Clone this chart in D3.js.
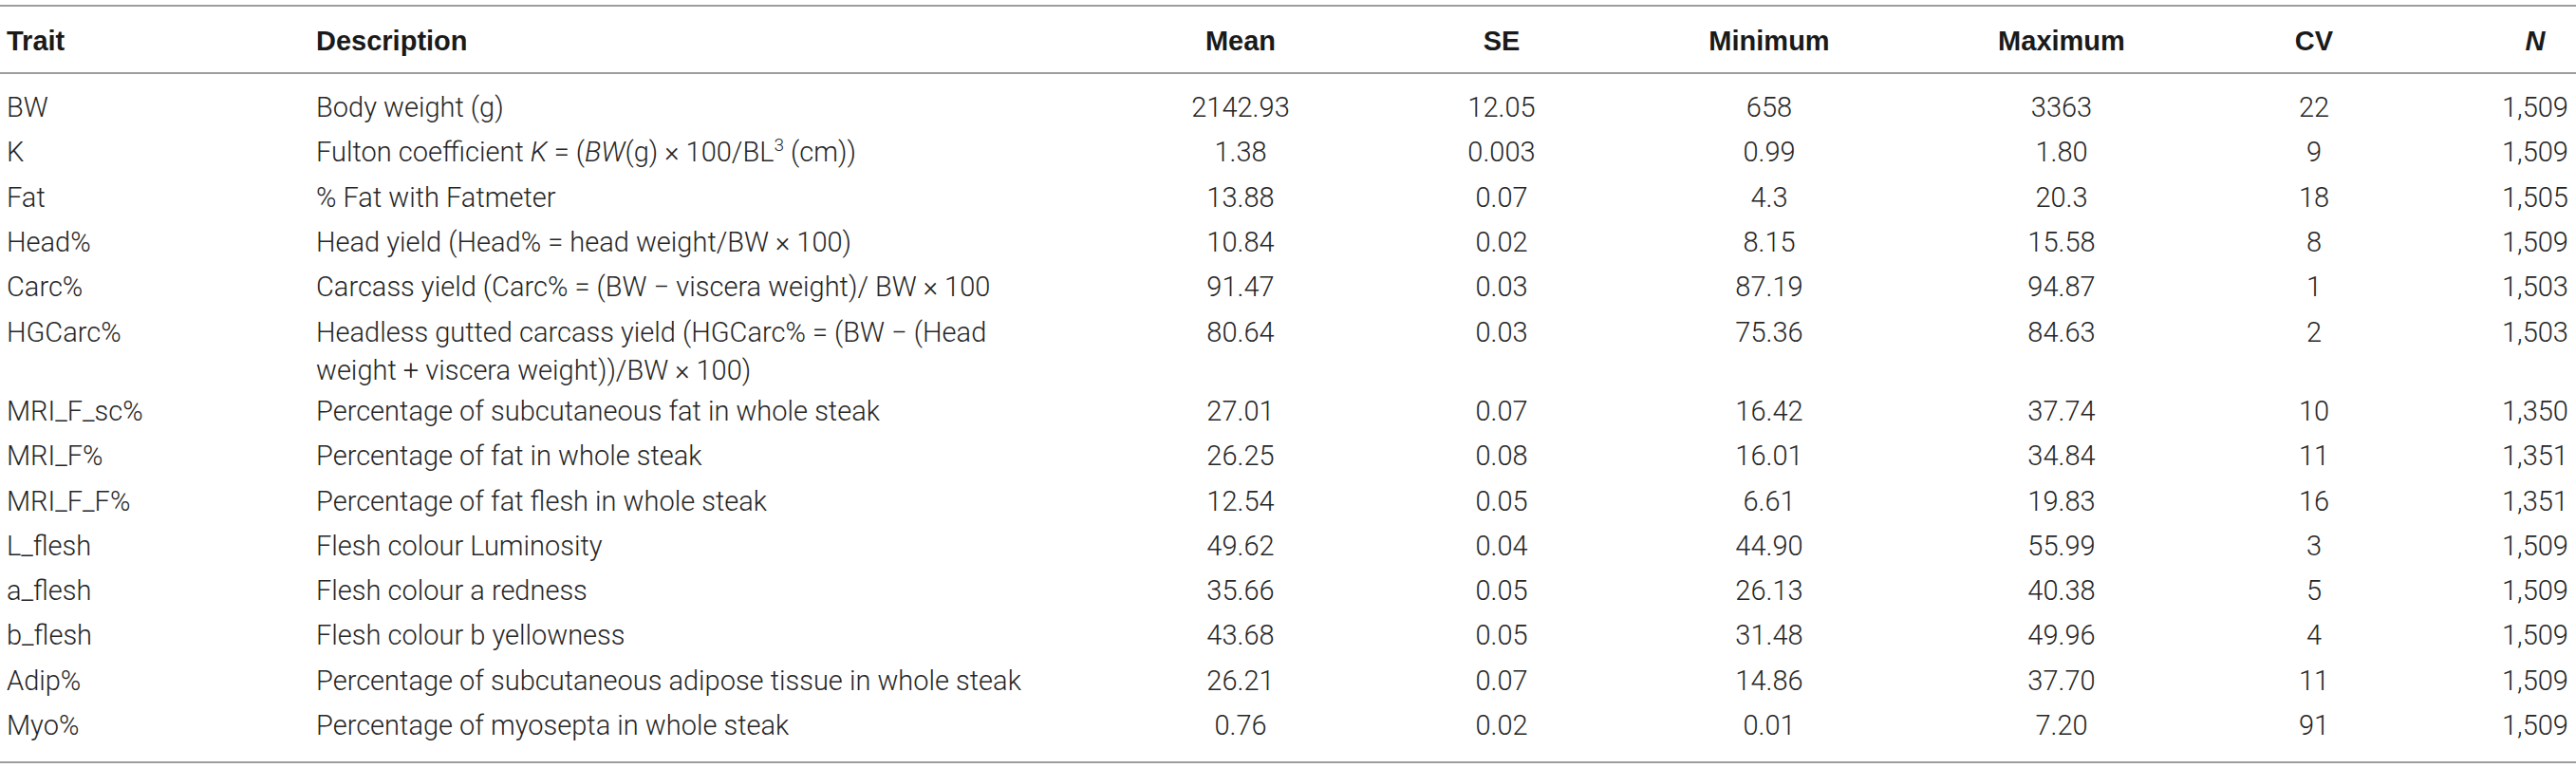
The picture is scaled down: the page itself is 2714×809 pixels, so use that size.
<!DOCTYPE html>
<html>
<head>
<meta charset="utf-8">
<script src="https://cdnjs.cloudflare.com/ajax/libs/d3/7.8.5/d3.min.js"></script>
<style>
  html, body { margin: 0; padding: 0; background: #fff; }
  svg { display: block; }
</style>
</head>
<body>
<script>
// trait summary table, drawn as svg text

var columns = ['Trait', 'Description', 'Mean', 'SE', 'Minimum', 'Maximum', 'CV', 'N'];

var traits = ['BW', 'K', 'Fat', 'Head%', 'Carc%', 'HGCarc%', 'MRI_F_sc%', 'MRI_F%',
  'MRI_F_F%', 'L_flesh', 'a_flesh', 'b_flesh', 'Adip%', 'Myo%'];

// *x* = italic, ^x^ = superscript, one entry per printed line
var descriptions = [
  ['Body weight (g)'],
  ['Fulton coefficient *K* = (*BW*(g) \u00d7 100/BL^3^ (cm))'],
  ['% Fat with Fatmeter'],
  ['Head yield (Head% = head weight/BW \u00d7 100)'],
  ['Carcass yield (Carc% = (BW \u2212 viscera weight)/ BW \u00d7 100'],
  ['Headless gutted carcass yield (HGCarc% = (BW \u2212 (Head', 'weight + viscera weight))/BW \u00d7 100)'],
  ['Percentage of subcutaneous fat in whole steak'],
  ['Percentage of fat in whole steak'],
  ['Percentage of fat flesh in whole steak'],
  ['Flesh colour Luminosity'],
  ['Flesh colour a redness'],
  ['Flesh colour b yellowness'],
  ['Percentage of subcutaneous adipose tissue in whole steak'],
  ['Percentage of myosepta in whole steak']
];

var means = ['2142.93', '1.38', '13.88', '10.84', '91.47', '80.64', '27.01', '26.25',
  '12.54', '49.62', '35.66', '43.68', '26.21', '0.76'];
var ses = ['12.05', '0.003', '0.07', '0.02', '0.03', '0.03', '0.07', '0.08',
  '0.05', '0.04', '0.05', '0.05', '0.07', '0.02'];
var minimums = ['658', '0.99', '4.3', '8.15', '87.19', '75.36', '16.42', '16.01',
  '6.61', '44.90', '26.13', '31.48', '14.86', '0.01'];
var maximums = ['3363', '1.80', '20.3', '15.58', '94.87', '84.63', '37.74', '34.84',
  '19.83', '55.99', '40.38', '49.96', '37.70', '7.20'];
var cvs = ['22', '9', '18', '8', '1', '2', '10', '11', '16', '3', '5', '4', '11', '91'];
var ns = ['1,509', '1,509', '1,505', '1,509', '1,503', '1,503', '1,350', '1,351',
  '1,351', '1,509', '1,509', '1,509', '1,509', '1,509'];

var W = 2714, H = 809;
var FS = 29;
var ROW_PITCH = 47.3, WRAP_LINE = 40, WRAP_EXTRA = 36;

var svg = d3.select('body').append('svg')
  .attr('width', W)
  .attr('height', H);

// column anchors
var xCol = d3.scaleOrdinal()
  .domain(columns)
  .range([7, 333, 1307, 1582, 1864, 2172, 2438, 2671]);

var anchorOf = function(c) {
  return (c === 'Trait' || c === 'Description') ? 'start' : 'middle';
};

var rowY = d3.scaleLinear().domain([0, 1]).range([113, 113 + ROW_PITCH]);

// wrapped description lines push the following rows down
var extraBefore = [];
var acc = 0;
descriptions.forEach(function(d, i) {
  extraBefore.push(acc);
  acc += (d.length - 1) * WRAP_EXTRA;
});
var yOf = function(i) { return rowY(i) + extraBefore[i]; };

// rules
var rules = [6, 77, 803];
svg.selectAll('line.rule')
  .data(rules)
  .enter().append('line')
  .attr('class', 'rule')
  .attr('x1', 0).attr('x2', W)
  .attr('y1', function(d) { return d; })
  .attr('y2', function(d) { return d; })
  .attr('stroke', '#9d9d9d')
  .attr('stroke-width', 2);

// header
svg.selectAll('text.head')
  .data(columns)
  .enter().append('text')
  .attr('class', 'head')
  .attr('x', function(d) { return xCol(d); })
  .attr('y', 43)
  .attr('dy', '0.35em')
  .attr('text-anchor', anchorOf)
  .attr('font-family', '"Liberation Sans", Arial, sans-serif')
  .attr('font-weight', 'bold')
  .attr('font-style', function(d) { return d === 'N' ? 'italic' : 'normal'; })
  .attr('font-size', FS)
  .attr('fill', '#1a1a1a')
  .text(function(d) { return d; });

var body = svg.append('g')
  .attr('font-family', 'Roboto, "Liberation Sans", sans-serif')
  .attr('font-weight', 300)
  .attr('font-size', FS)
  .attr('fill', '#262626');

var rows = body.selectAll('g.row')
  .data(traits)
  .enter().append('g')
  .attr('class', 'row')
  .attr('transform', function(d, i) { return 'translate(0,' + yOf(i) + ')'; });

var numericCols = [
  ['Mean', means], ['SE', ses], ['Minimum', minimums],
  ['Maximum', maximums], ['CV', cvs], ['N', ns]
];

rows.append('text')
  .attr('x', xCol('Trait'))
  .attr('dy', '0.35em')
  .text(function(d) { return d; });

numericCols.forEach(function(col) {
  rows.append('text')
    .attr('x', xCol(col[0]))
    .attr('dy', '0.35em')
    .attr('text-anchor', 'middle')
    .text(function(d, i) { return col[1][i]; });
});

// description lines with italic / superscript pieces
var addRich = function(textSel, str) {
  var parts = str.split(/(\*[^*]+\*|\^[^^]+\^)/).filter(function(p) { return p.length; });
  var raised = false;
  parts.forEach(function(p) {
    var t = textSel.append('tspan');
    if (p[0] === '*') {
      t.attr('font-style', 'italic').text(p.slice(1, -1));
    } else if (p[0] === '^') {
      t.attr('font-size', 19).attr('dy', -11).text(p.slice(1, -1));
      raised = true;
      return;
    } else {
      t.text(p);
    }
    if (raised) { t.attr('dy', 11); raised = false; }
  });
};

rows.each(function(d, i) {
  var g = d3.select(this);
  descriptions[i].forEach(function(line, j) {
    var t = g.append('text')
      .attr('x', xCol('Description'))
      .attr('y', j * WRAP_LINE)
      .attr('dy', '0.35em');
    addRich(t, line);
  });
});
</script>
</body>
</html>
